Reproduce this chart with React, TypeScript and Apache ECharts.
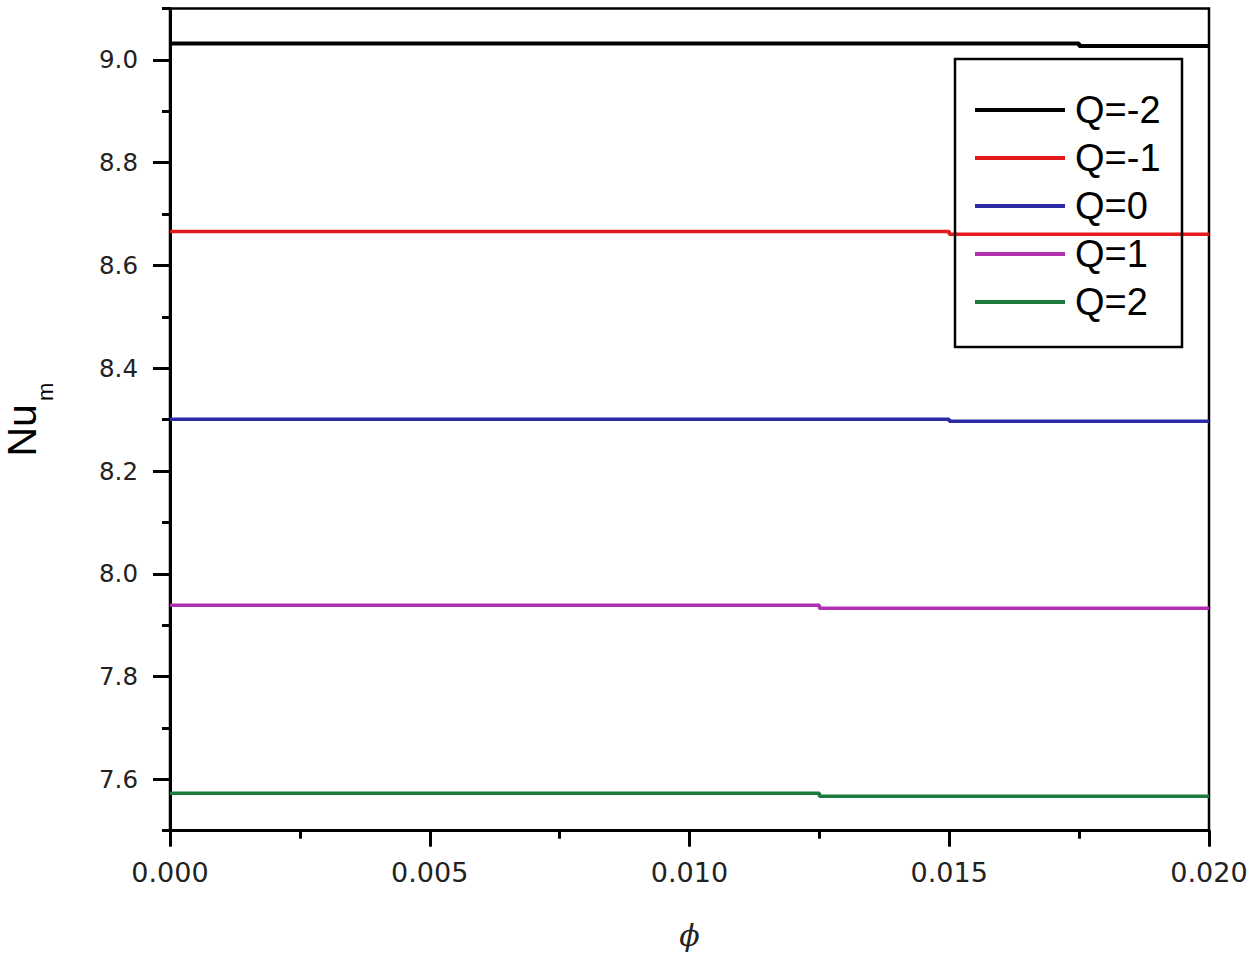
import React, { useEffect, useRef } from "react";
import * as echarts from "echarts";

// Data
const seriesNames = ["Q=-2", "Q=-1", "Q=0", "Q=1", "Q=2"];
const seriesColors = ["#000000", "#e3191c", "#2b2ba6", "#b030b0", "#1c7a3c"];
// each curve: [phi, Nu_m] points (step-like change)
const qMinus2 = [[0, 9.032], [0.0175, 9.032], [0.0175, 9.027], [0.02, 9.027]];
const qMinus1 = [[0, 8.666], [0.015, 8.666], [0.015, 8.661], [0.02, 8.661]];
const qZero = [[0, 8.301], [0.015, 8.301], [0.015, 8.297], [0.02, 8.297]];
const qPlus1 = [[0, 7.939], [0.0125, 7.939], [0.0125, 7.933], [0.02, 7.933]];
const qPlus2 = [[0, 7.573], [0.0125, 7.573], [0.0125, 7.567], [0.02, 7.567]];
const allSeries = [qMinus2, qMinus1, qZero, qPlus1, qPlus2];

const xMin = 0;
const xMax = 0.02;
const xInterval = 0.005;
const yMin = 7.5;
const yMax = 9.1;

export default function App() {
  const ref = useRef<HTMLDivElement>(null);
  useEffect(() => {
    if (!ref.current) return;
    const chart = echarts.init(ref.current, null, { renderer: "svg" });
    const tickFont = "DejaVu Sans";
    const option: any = {
      animation: false,
      backgroundColor: "#ffffff",
      grid: {
        left: 170,
        right: 41,
        top: 8.6,
        bottom: 126.3,
        show: true,
        borderColor: "#000",
        borderWidth: 2.5,
        backgroundColor: "transparent",
        containLabel: false,
        outerBoundsMode: "none",
      },
      legend: {
        orient: "vertical",
        left: 975,
        top: 91,
        padding: 0,
        itemWidth: 90,
        itemHeight: 4,
        itemGap: 10,
        icon: "rect",
        textStyle: {
          fontFamily: "Liberation Sans",
          fontSize: 38,
          lineHeight: 36,
          color: "#000",
          padding: [0, 0, 0, 5],
        },
        data: seriesNames,
      },
      graphic: [
        {
          type: "rect",
          shape: { x: 955, y: 59, width: 227, height: 288 },
          style: { fill: "none", stroke: "#000", lineWidth: 2.5 },
          z: 10,
        },
      ],
      xAxis: {
        type: "value",
        min: xMin,
        max: xMax,
        interval: xInterval,
        name: "\u03d5",
        nameLocation: "middle",
        nameGap: 90,
        nameTextStyle: {
          fontFamily: "DejaVu Serif",
          fontStyle: "italic",
          fontSize: 30,
          color: "#222",
        },
        axisLine: { show: true, onZero: false, lineStyle: { color: "#000", width: 3 } },
        axisTick: { show: true, inside: false, length: 16, lineStyle: { color: "#000", width: 3 } },
        minorTick: { show: true, splitNumber: 2, length: 8, lineStyle: { color: "#000", width: 3 } },
        splitLine: { show: false },
        minorSplitLine: { show: false },
        axisLabel: {
          margin: 28,
          fontFamily: tickFont,
          fontSize: 27,
          color: "#222",
          formatter: (v: number) => v.toFixed(3),
        },
      },
      yAxis: [
        {
          type: "value",
          min: yMin,
          max: yMax,
          splitNumber: 8,
          name: "{a|Nu}{b|m}",
          nameLocation: "middle",
          nameGap: 128,
          nameRotate: 90,
          nameTextStyle: {
            color: "#000",
            rich: {
              a: { fontFamily: "Liberation Sans", fontSize: 41, color: "#000" },
              b: { fontFamily: "Liberation Sans", fontSize: 22, color: "#000", verticalAlign: "bottom", padding: [0, 0, -14, 3] },
            },
          },
          axisLine: { show: true, onZero: false, lineStyle: { color: "#000", width: 3 } },
          axisTick: { show: true, inside: false, length: 17, lineStyle: { color: "#000", width: 3 } },
          splitLine: { show: false },
          axisLabel: {
            margin: 32,
            fontFamily: tickFont,
            fontSize: 24.5,
            color: "#222",
            showMinLabel: false,
            showMaxLabel: false,
            formatter: (v: number) => v.toFixed(1),
          },
        },
        {
          type: "value",
          min: yMin,
          max: yMax,
          interval: 0.1,
          position: "left",
          axisLine: { show: false },
          axisTick: { show: true, inside: false, length: 8, lineStyle: { color: "#000", width: 3 } },
          axisLabel: { show: false },
          splitLine: { show: false },
        },
      ],
      series: allSeries.map((d, i) => ({
        name: seriesNames[i],
        type: "line",
        data: d,
        symbol: "none",
        showSymbol: false,
        yAxisIndex: 0,
        lineStyle: { color: seriesColors[i], width: i === 0 ? 4 : 3.5 },
        itemStyle: { color: seriesColors[i] },
      })),
    };
    chart.setOption(option);
    return () => chart.dispose();
  }, []);
  return <div ref={ref} style={{ width: 1250, height: 957, position: "absolute", left: 0, top: 0 }} />;
}
